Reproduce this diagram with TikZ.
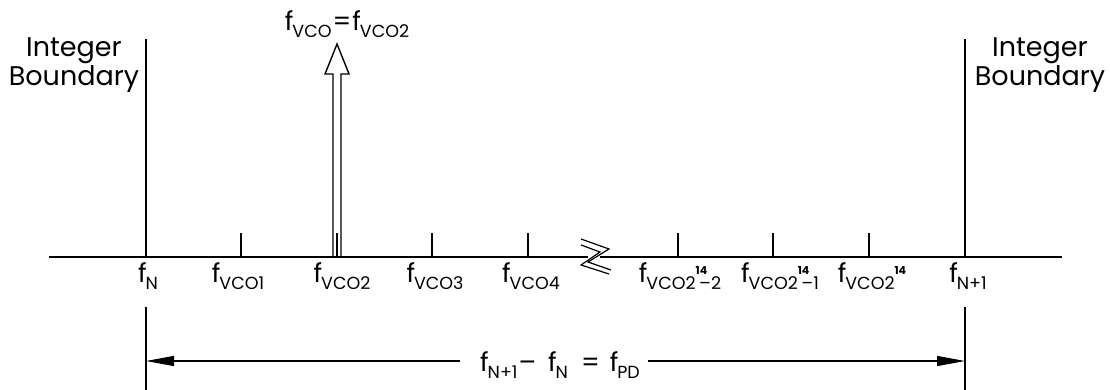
\documentclass[tikz,border=0pt]{standalone}
\usepackage{fontspec}
\setmainfont{Poppins}
\usetikzlibrary{arrows.meta}
\newcommand{\sbs}[1]{\raisebox{-7pt}{\fontsize{17.5}{17.5}\selectfont #1}}
\newcommand{\fl}[1]{f\kern-1pt\sbs{#1}}
\newcommand{\sps}[1]{\raisebox{8pt}{\fontsize{11}{11}\selectfont\bfseries #1}}
\begin{document}
\begin{tikzpicture}[x=1pt,y=-1pt,
  ln/.style={line width=1.5pt, line cap=butt},
  lbl/.style={anchor=base, inner sep=0pt, font=\fontsize{26}{26}\selectfont},
  bnd/.style={align=center, inner sep=0pt, font=\fontsize{27}{29}\selectfont},
  tickln/.style={line width=1.4pt}]
\useasboundingbox (0,0) rectangle (1110,390);
% coordinates
\coordinate (axL) at (49,257);
\coordinate (axB1) at (588,257);
\coordinate (axB2) at (600,257);
\coordinate (axR) at (1062,257);
\coordinate (bLt) at (146,39);
\coordinate (bLb) at (146,257);
\coordinate (bRt) at (965,39);
\coordinate (bRb) at (965,257);
\coordinate (bLd1) at (146,307);
\coordinate (bLd2) at (146,390);
\coordinate (bRd1) at (965,307);
\coordinate (bRd2) at (965,390);
% axis
\draw[ln] (axL) -- (axB1);
\draw[ln] (axB2) -- (axR);
% break symbol
\draw[line width=1.2pt] (581,239) -- (609,249) -- (588,262) -- (611,270);
\draw[line width=1.2pt] (581,245) -- (600,252) -- (581,265) -- (609,274);
% boundaries
\draw[ln] (bLt) -- (bLb);
\draw[ln] (bRt) -- (bRb);
\draw[ln] (bLd1) -- (bLd2);
\draw[ln] (bRd1) -- (bRd2);
% ticks
\foreach \x/\n in {241/t1,432/t3,528/t4,678/t5,773/t6,869/t7}{
  \coordinate (\n a) at (\x,233);
  \coordinate (\n b) at (\x,257);
  \draw[tickln] (\n a) -- (\n b);
}
\coordinate (t2a) at (337,233);
\coordinate (t2b) at (337,257);
\draw[tickln] (t2a) -- (t2b);
% big arrow
\draw[line width=1.4pt, line join=miter] (333,257) -- (333,74) -- (325,74) -- (337,44) -- (349,74) -- (341,74) -- (341,257);
% top label
\node[lbl] (top) at (347,31) {\fl{VCO}\kern1pt=\kern1pt\fl{VCO2}};
% boundary texts
\node[bnd] (intL) at (74,65) {Integer\\Boundary};
\node[bnd] (intR) at (1040,65) {Integer\\Boundary};
% axis labels
\node[lbl] (lN) at (148,282) {\fl{N}};
\node[lbl] (l1) at (238,282) {\fl{VCO1}};
\node[lbl] (l2) at (342,282) {\fl{VCO2}};
\node[lbl] (l3) at (435,282) {\fl{VCO3}};
\node[lbl] (l4) at (531,282) {\fl{VCO4}};
\node[lbl] (l5) at (680,282) {\fl{VCO2}\sps{14}\kern-8pt\sbs{–2}};
\node[lbl] (l6) at (780,282) {\fl{VCO2}\sps{14}\kern-8pt\sbs{–1}};
\node[lbl] (l7) at (872,282) {\fl{VCO2}\sps{14}};
\node[lbl] (lN1) at (968,282) {\fl{N+1}};
% dimension
\coordinate (dL) at (146,361);
\coordinate (dR) at (965,361);
\node[lbl] (dim) at (560,371) {\fl{N+1}\kern1pt–\kern12pt\fl{N}\kern13pt=\kern10pt\fl{PD}};
\coordinate (dimW) at (460,361);
\coordinate (dimE) at (648,361);
\draw[line width=1.2pt, -{Triangle[length=28pt,width=10pt]}] (dimW) -- (dL);
\draw[line width=1.2pt, -{Triangle[length=28pt,width=10pt]}] (dimE) -- (dR);
\end{tikzpicture}
\end{document}
